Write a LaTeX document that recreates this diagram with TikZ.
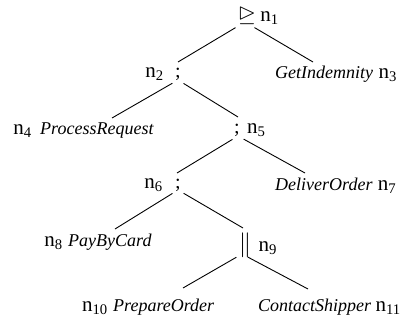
\documentclass[tikz,border=0pt]{standalone}
\usepackage{amssymb}
\usepackage{fontspec}
\setmainfont{Liberation Serif}
\usetikzlibrary{positioning}
\newcommand{\figfont}{\fontsize{18}{21}\selectfont}
\tikzset{
	op/.style={inner sep=0pt, anchor=base},
	act/.style={inner sep=0pt, anchor=base west, font=\figfont\itshape},
	num/.style={inner sep=0pt, font=\fontsize{21}{24}\selectfont},
	branch/.style={line width=0.9pt, shorten <=6.5pt},
}
\newcommand{\nlab}[1]{n\textsubscript{#1}}
\begin{document}
\begin{tikzpicture}[x=1pt,y=-1pt,font=\figfont]
	\useasboundingbox (0,0) rectangle (407,324);
	% where the branches meet
	\coordinate (p1) at (245,22);
	\coordinate (p2) at (178,80);
	\coordinate (p5) at (238,136);
	\coordinate (p6) at (178,190);
	\coordinate (p9) at (242,254);
	% where the branches stop
	\coordinate (t2) at (178,62);
	\coordinate (t3) at (313,62);
	\coordinate (t4) at (112,118);
	\coordinate (t5) at (238,117);
	\coordinate (t6) at (177,173);
	\coordinate (t7) at (305,173);
	\coordinate (t8) at (115,229);
	\coordinate (t9) at (243,228);
	\coordinate (t10) at (183,288);
	\coordinate (t11) at (308,289);

	\node[op, font=\fontsize{23}{25}\selectfont] (o1) at (247,21) {$\unrhd$};
	\node[op, font=\fontsize{20}{22}\selectfont] (o2) at (178,77) {;};
	\node[op, font=\fontsize{20}{22}\selectfont] (o5) at (237,133) {;};
	\node[op, font=\fontsize{20}{22}\selectfont] (o6) at (178,188) {;};
	\node[op, font=\fontsize{26}{30}\selectfont] (o9) at (245,251) {$\|$};

	\node[act] (a3) at (275,78) {GetIndemnity};
	\node[act] (a4) at (40,134) {ProcessRequest};
	\node[act] (a7) at (275,190) {DeliverOrder};
	\node[act] (a8) at (68,246) {PayByCard};
	\node[act] (a10) at (113,311) {PrepareOrder};
	\node[act] (a11) at (258,311) {ContactShipper};

	\node[num, base right=4pt of o1] (m1) {\nlab{1}};
	\node[num, base left=11pt of o2] (m2) {\nlab{2}};
	\node[num, base right=5pt of a3] (m3) {\nlab{3}};
	\node[num, base left=8pt of a4] (m4) {\nlab{4}};
	\node[num, base right=7pt of o5] (m5) {\nlab{5}};
	\node[num, base left=12pt of o6] (m6) {\nlab{6}};
	\node[num, base right=5pt of a7] (m7) {\nlab{7}};
	\node[num, base left=5pt of a8] (m8) {\nlab{8}};
	\node[num, base right=7pt of o9] (m9) {\nlab{9}};
	\node[num, base left=5pt of a10] (m10) {\nlab{10}};
	\node[num, base right=4pt of a11] (m11) {\nlab{11}};

	\draw[branch, shorten <=11pt] (p1) -- (t2);
	\draw[branch, shorten <=11pt] (p1) -- (t3);
	\foreach \a/\b in {p2/t4, p2/t5, p5/t6, p5/t7, p6/t8, p6/t9, p9/t10, p9/t11}
		\draw[branch] (\a) -- (\b);
\end{tikzpicture}
\end{document}
